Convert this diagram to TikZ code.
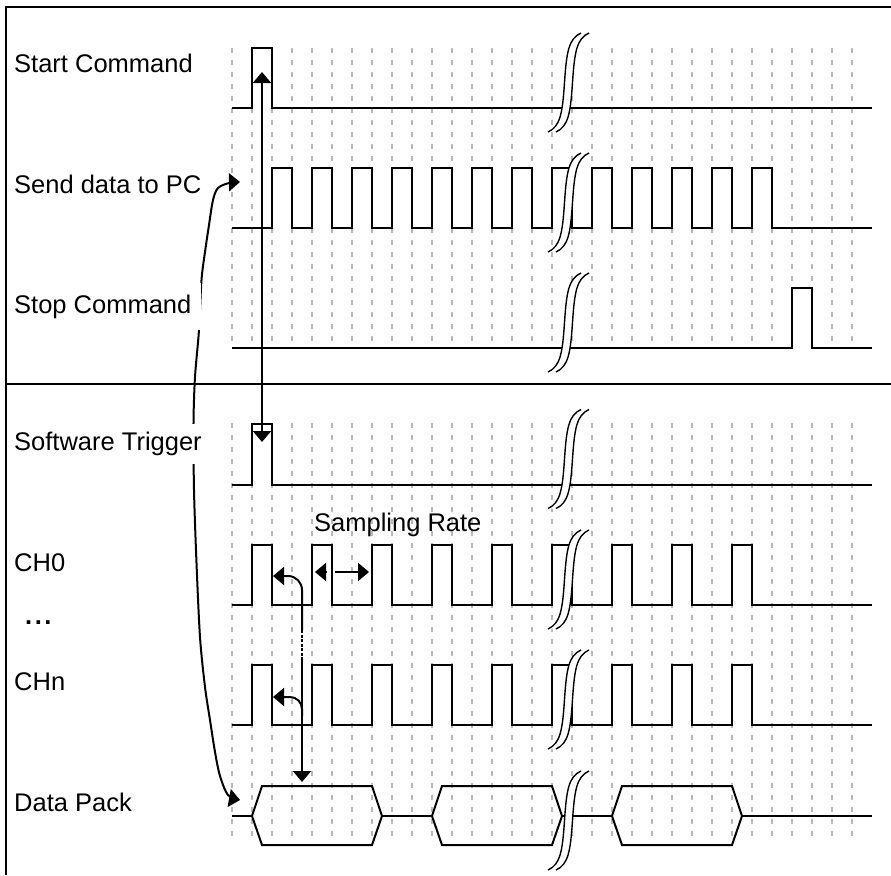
\documentclass[tikz,border=0pt]{standalone}
\usepackage{fontspec}
\setmainfont{Liberation Sans}
\usetikzlibrary{arrows.meta}
\newcommand\lblfont{\fontsize{25.5}{30}\selectfont}
\begin{document}
\begin{tikzpicture}[x=1pt,y=-1pt,
  >={Triangle[length=11pt,width=18pt]},
  gridline/.style={draw={rgb,255:red,185;green,185;blue,185}, line width=1.3pt, dash pattern=on 5pt off 7pt},
  sig/.style={draw=black, line width=2pt, line join=miter},
  frameline/.style={draw=black, line width=2.2pt},
  conn/.style={draw=black, line width=2pt},
  brkline/.style={draw=black, line width=1.4pt},
  lbl/.style={font=\lblfont, anchor=base west, inner sep=0pt, text=black},
  masked/.style={fill=white, inner xsep=10pt, inner ysep=12pt},
  brk/.pic={
    \fill[white] (-16.5,49.5) .. controls (-4,44) and (-2,30) .. (0,0) .. controls (2,-30) and (4,-44) .. (16.5,-49.5)
      -- (24.5,-49.5) .. controls (12,-44) and (10,-30) .. (8,0) .. controls (6,30) and (4,44) .. (-8.5,49.5) -- cycle;
    \draw[brkline] (-16.5,49.5) .. controls (-4,44) and (-2,30) .. (0,0) .. controls (2,-30) and (4,-44) .. (16.5,-49.5);
    \draw[brkline] (-8.5,49.5) .. controls (4,44) and (6,30) .. (8,0) .. controls (10,-30) and (12,-44) .. (24.5,-49.5);
  }]
\useasboundingbox (0,0) rectangle (891,875);
\fill[white] (0,0) rectangle (891,875);

% grid
\foreach \i in {0,...,31}{
  \draw[gridline] (232+20*\i,48) -- (232+20*\i,341);
  \draw[gridline] (232+20*\i,423) -- (232+20*\i,836);
}

% signals
\draw[sig] (232,108) -- (252,108) -- (252,48) -- (272,48) -- (272,108) -- (872,108);
\draw[sig] (232,228) \foreach \k in {0,...,12}{ -- (272+40*\k,228) -- (272+40*\k,168) -- (292+40*\k,168) -- (292+40*\k,228)} -- (872,228);
\draw[sig] (232,348) -- (792,348) -- (792,288) -- (812,288) -- (812,348) -- (872,348);
\draw[sig] (232,485) -- (252,485) -- (252,424) -- (272,424) -- (272,485) -- (872,485);
\draw[sig] (232,605) \foreach \k in {0,...,8}{ -- (252+60*\k,605) -- (252+60*\k,545) -- (272+60*\k,545) -- (272+60*\k,605)} -- (872,605);
\draw[sig] (232,725) \foreach \k in {0,...,8}{ -- (252+60*\k,725) -- (252+60*\k,665) -- (272+60*\k,665) -- (272+60*\k,725)} -- (872,725);
\draw[sig] (232,816) -- (252,816);
\foreach \L in {252,432,612}{
  \draw[sig] (\L,816) -- (\L+10,786) -- (\L+120,786) -- (\L+130,816) -- (\L+120,845) -- (\L+10,845) -- cycle;
}
\draw[sig] (382,816) -- (432,816);
\draw[sig] (562,816) -- (612,816);
\draw[sig] (742,816) -- (872,816);

% breaks
\foreach \yc in {82.5,202.5,322.5,459,579.5,699.5,820.5}{
  \path (564.5,\yc) pic {brk};
}

% connector end points
\coordinate (stA) at (262,72);
\coordinate (swA) at (262,442);
\coordinate (sendA) at (240,182);
\coordinate (dataA) at (240,800);
\coordinate (ch0A) at (273,576);
\coordinate (chnA) at (273,697);
\coordinate (ch0J) at (302,630);
\coordinate (dotE) at (302,657);
\coordinate (chnJ) at (302,716);
\coordinate (packA) at (302,782);
\coordinate (srL) at (315,572);
\coordinate (srLb) at (327,572);
\coordinate (srRb) at (335,572);
\coordinate (srR) at (369,572);

% connectors
\draw[conn,<->] (stA) -- (swA);
\draw[conn,<->] plot[smooth,tension=0.5] coordinates {(sendA) (229,183) (218,188) (213,200) (209,225) (205,252) (201.5,280) (199,330) (195,377) (193.5,423) (194,490) (196.5,563) (200,637) (205,687) (210,720) (215,752) (220,776) (228,795) (dataA)};
\draw[conn,->,rounded corners=14pt] (ch0J) |- (ch0A);
\draw[draw=black,line width=1.8pt,dash pattern=on 3pt off 1.5pt] (ch0J) -- (dotE);
\draw[conn,->] (dotE) -- (packA);
\draw[conn,->,rounded corners=12pt] (chnJ) |- (chnA);
\draw[conn,->] (srLb) -- (srL);
\draw[conn,->] (srRb) -- (srR);

% labels
\node[lbl] (lStart) at (14,73) {Start Command};
\node[lbl] (lSend) at (14,193) {Send data to PC};
\node[lbl,masked] (lStop) at (4,313) {Stop Command};
\node[lbl,masked,inner xsep=7pt,inner ysep=8pt] (lSoft) at (7,450.5) {Software Trigger};
\node[lbl] (lCH0) at (14,571) {CH0};
\node[lbl] (lDots) at (25,624) {\bfseries .\hspace{2.5pt}.\hspace{2.5pt}.};
\node[lbl] (lCHn) at (14,690) {CHn};
\node[lbl] (lData) at (14,811) {Data Pack};
\node[lbl] (lRate) at (314,531) {Sampling Rate};

% frame
\draw[frameline] (6,875) -- (6,7) -- (891,7);
\draw[frameline] (6,384) -- (891,384);
\end{tikzpicture}
\end{document}
